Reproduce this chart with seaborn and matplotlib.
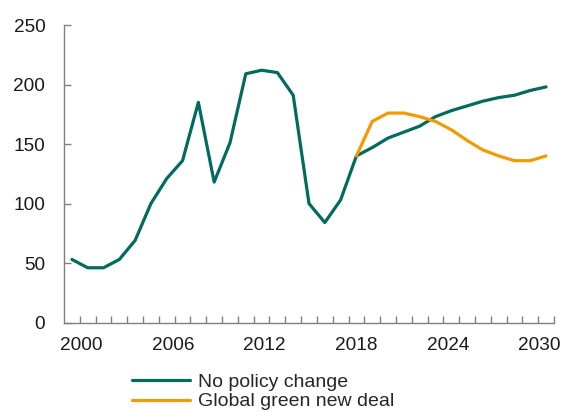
"""
Line chart: no policy change vs global green new deal scenario, 2000-2030.
"""

import numpy as np
import pandas as pd
import matplotlib
matplotlib.use("Agg")
import matplotlib.pyplot as plt
import seaborn as sns

# Values
years_base = list(range(2000, 2031))
no_policy = [53, 46, 46, 53, 69, 100, 121, 136, 185, 118, 151, 209, 212, 210, 191,
             100, 84, 103, 140, 147, 155, 160, 165, 173, 178, 182, 186, 189, 191, 195, 198]

years_green = list(range(2018, 2031))
green_deal = [140, 169, 176, 176, 173, 169, 162, 153, 145, 140, 136, 136, 140]

label_years = [2000, 2006, 2012, 2018, 2024, 2030]
y_ticks = [0, 50, 100, 150, 200, 250]

series_names = ["No policy change", "Global green new deal"]
colors = {"No policy change": "#006B5E", "Global green new deal": "#F39A00"}

data = pd.concat([
    pd.DataFrame({"year": years_base, "value": no_policy, "scenario": series_names[0]}),
    pd.DataFrame({"year": years_green, "value": green_deal, "scenario": series_names[1]}),
], ignore_index=True)

sns.set_style("white")
plt.rcParams['font.family'] = ['Liberation Sans', 'DejaVu Sans']

fig = plt.figure(figsize=(5.61, 4.12), dpi=100)
ax = fig.add_axes([0.1141, 0.2172, 0.8734, 0.7221])

sns.lineplot(
    data=data,
    x="year",
    y="value",
    hue="scenario",
    hue_order=series_names,
    palette=colors,
    linewidth=2.3,
    ax=ax,
    legend=False,
)

ax.set_xlim(1999.5, 2030.5)
ax.set_ylim(0, 250)
ax.set_xlabel("")
ax.set_ylabel("")

# spines
for side in ["top", "right"]:
    ax.spines[side].set_visible(False)
for side in ["left", "bottom"]:
    ax.spines[side].set_color("#808080")
    ax.spines[side].set_linewidth(1.0)

# y axis ticks point inwards
ax.set_yticks(y_ticks)
ax.tick_params(axis="y", left=True, direction="in", length=5, width=1, color="#808080",
               labelsize=13.7, labelcolor="#1a1a1a", pad=13.5)

# x axis: category boundary ticks, labels drawn without tick marks
ax.set_xticks(np.arange(2000.5, 2030.6, 1.0), minor=True)
label_pos = [2000.6 + (y - 2000) * 0.966 for y in label_years]
ax.set_xticks(label_pos)
ax.set_xticklabels([str(y) for y in label_years])
ax.tick_params(axis="x", which="minor", bottom=True, direction="in", length=5, width=1,
               color="#808080")
ax.tick_params(axis="x", which="major", bottom=True, length=0, labelsize=13.7,
               labelcolor="#1a1a1a", pad=10.5)
ax.grid(False)

# legend below the plot
handles = [plt.Line2D([], [], color=colors[n], linewidth=2.3) for n in series_names]
fig.legend(handles, series_names, loc="center left", bbox_to_anchor=(0.2353, 0.0485),
           frameon=False, fontsize=14, handlelength=3.0, handletextpad=0.4,
           labelspacing=0.08, borderpad=0, borderaxespad=0)

fig.savefig("out.png", dpi=100)
plt.close(fig)
